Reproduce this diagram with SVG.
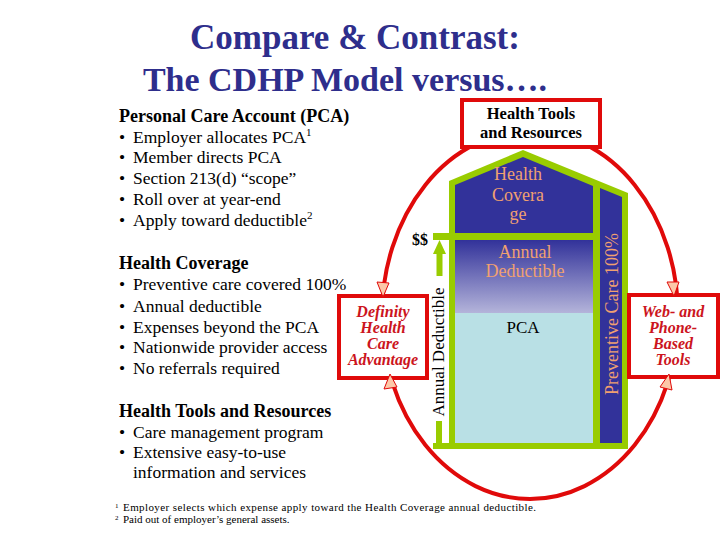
<svg xmlns="http://www.w3.org/2000/svg" width="720" height="540" viewBox="0 0 720 540" font-family="'Liberation Serif', 'DejaVu Serif', serif">
<defs>
<linearGradient id="ded" x1="0" y1="0" x2="0" y2="1">
<stop offset="0" stop-color="#32329a"/>
<stop offset="1" stop-color="#b4b4da"/>
</linearGradient>
<style>
text{font-family:'Liberation Serif','DejaVu Serif',serif}
.title{font-size:35px;font-weight:bold;fill:#2e2e8c;text-anchor:middle}
.h{font-size:18px;font-weight:bold;fill:#000}
.b{font-size:17.5px;fill:#000}
.sup{font-size:11px}
.fn{font-size:11px;fill:#000}
.fm{font-size:7px;fill:#000}
.in{font-size:18px;fill:#f0a070;text-anchor:middle}
.red{font-size:16px;font-weight:bold;font-style:italic;fill:#cc1420;text-anchor:middle}
.box{fill:#fff;stroke:#e00a0a;stroke-width:4}
.head{fill:#fcc8a8;stroke:#e00a0a;stroke-width:1}
.grn{fill:#99cc00}
</style>
</defs>
<rect width="720" height="540" fill="#fff"/>
<g id="title">
<text class="title" x="355" y="49">Compare &amp; Contrast:</text>
<text class="title" x="345" y="91" style="font-size:34px">The CDHP Model versus….</text>
</g>
<g id="pca-text">
<text class="h" x="119" y="122">Personal Care Account (PCA)</text>
<text class="b" x="119" y="143">•<tspan x="133">Employer allocates PCA</tspan><tspan class="sup" dy="-7">1</tspan></text>
<text class="b" x="119" y="163">•<tspan x="133">Member directs PCA</tspan></text>
<text class="b" x="119" y="184">•<tspan x="133">Section 213(d) “scope”</tspan></text>
<text class="b" x="119" y="205">•<tspan x="133">Roll over at year-end</tspan></text>
<text class="b" x="119" y="226">•<tspan x="133">Apply toward deductible</tspan><tspan class="sup" dy="-7">2</tspan></text>
</g>
<g id="coverage-text">
<text class="h" x="119" y="269">Health Coverage</text>
<text class="b" x="119" y="290">•<tspan x="133">Preventive care covered 100%</tspan></text>
<text class="b" x="119" y="312">•<tspan x="133">Annual deductible</tspan></text>
<text class="b" x="119" y="333">•<tspan x="133">Expenses beyond the PCA</tspan></text>
<text class="b" x="119" y="353">•<tspan x="133">Nationwide provider access</tspan></text>
<text class="b" x="119" y="374">•<tspan x="133">No referrals required</tspan></text>
</g>
<g id="tools-text">
<text class="h" x="119" y="417">Health Tools and Resources</text>
<text class="b" x="119" y="438">•<tspan x="133">Care management program</tspan></text>
<text class="b" x="119" y="458">•<tspan x="133">Extensive easy-to-use</tspan></text>
<text class="b" x="133" y="478">information and services</text>
</g>
<g id="footnotes">
<text class="fm" x="115" y="508">1</text>
<text class="fn" x="123" y="511" textLength="413" lengthAdjust="spacing">Employer selects which expense apply toward the Health Coverage annual deductible.</text>
<text class="fm" x="115" y="520">2</text>
<text class="fn" x="123" y="523">Paid out of employer’s general assets.</text>
</g>
<g id="house">
<polygon class="grn" points="449,449 449,181 523,150 628,193 628,449"/>
<rect class="grn" x="433" y="443" width="195" height="6"/>
<rect class="grn" x="433" y="233" width="167" height="7"/>
<polygon fill="#32329a" points="455,233 455,185 523,157 593,186 593,233"/>
<rect x="455" y="240" width="138" height="73" fill="url(#ded)"/>
<rect x="455" y="313" width="138" height="130" fill="#b9e0e5"/>
<polygon fill="#32329a" points="600,188 622,197 622,443 600,443"/>
<text class="in" x="518" y="180">Health</text>
<text class="in" x="518" y="201">Covera</text>
<text class="in" x="518" y="220">ge</text>
<text class="in" x="525" y="258">Annual</text>
<text class="in" x="525" y="277">Deductible</text>
<text x="523" y="333" font-size="17" text-anchor="middle">PCA</text>
<text class="in" x="0" y="0" transform="translate(618,314) rotate(-90)">Preventive Care 100%</text>
<text x="0" y="0" font-size="17" text-anchor="middle" transform="translate(444,352) rotate(-90)">Annual Deductible</text>
<text x="420" y="245" font-size="16" font-weight="bold" text-anchor="middle">$$</text>
<polygon class="grn" points="439.5,240 433,254 446,254"/>
<rect class="grn" x="436.5" y="253" width="6" height="23"/>
<rect class="grn" x="436" y="421" width="6" height="23"/>
</g>
<g id="connectors">
<ellipse cx="530" cy="315" rx="148" ry="184" fill="none" stroke="#e00a0a" stroke-width="4"/>
</g>
<g id="health-tools-box">
<rect class="box" x="462" y="100" width="138" height="47"/>
<text x="531" y="119" font-size="16.5" font-weight="bold" text-anchor="middle">Health Tools</text>
<text x="531" y="138" font-size="16.5" font-weight="bold" text-anchor="middle">and Resources</text>
</g>
<g id="definity-box">
<rect class="box" x="339" y="296" width="88" height="82"/>
<text class="red" x="383" y="317">Definity</text>
<text class="red" x="383" y="333">Health</text>
<text class="red" x="383" y="349">Care</text>
<text class="red" x="383" y="365">Advantage</text>
</g>
<g id="web-box">
<rect class="box" x="629" y="295" width="89" height="82"/>
<text class="red" x="673" y="317">Web- and</text>
<text class="red" x="673" y="333">Phone-</text>
<text class="red" x="673" y="349">Based</text>
<text class="red" x="673" y="365">Tools</text>
</g>
<g id="arrowheads">
<polygon class="head" points="383,297 377,282 389,283"/>
<polygon class="head" points="390,374 384,389 397,387"/>
<polygon class="head" points="674,296 667,282 679,282"/>
<polygon class="head" points="669,374 660,387 672,390"/>
</g>
</svg>
